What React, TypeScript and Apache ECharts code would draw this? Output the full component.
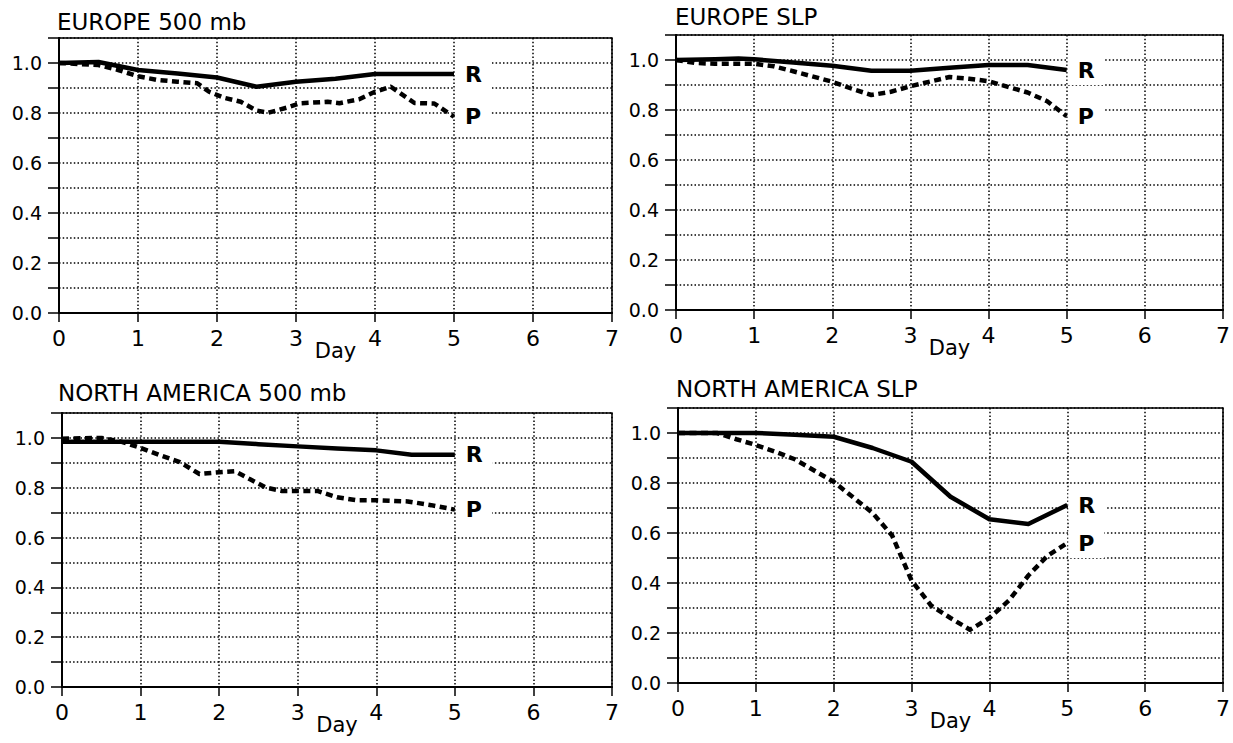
import React, { useEffect, useRef } from "react";
import * as echarts from "echarts";

// ---- Data ----
const xTickLabels = ["0", "1", "2", "3", "4", "5", "6", "7"];
const yTickLabels = ["0.0", "0.2", "0.4", "0.6", "0.8", "1.0"];

const panelTitles = ["EUROPE 500 mb", "EUROPE SLP", "NORTH AMERICA 500 mb", "NORTH AMERICA SLP"];
const seriesNames = ["R", "P"];

// EUROPE 500 mb
const eu500RDays = [0, 0.5, 1, 1.5, 2, 2.5, 3, 3.5, 4, 4.5, 5];
const eu500RVals = [1.0, 1.004, 0.972, 0.958, 0.942, 0.905, 0.925, 0.937, 0.956, 0.956, 0.956];
const eu500PDays = [0, 0.5, 0.75, 1, 1.25, 1.5, 1.75, 1.9, 2.1, 2.3, 2.5, 2.65, 2.9, 3.05, 3.4, 3.55, 3.8, 4.0, 4.2, 4.5, 4.75, 5];
const eu500PVals = [1.0, 0.992, 0.972, 0.947, 0.932, 0.925, 0.919, 0.885, 0.86, 0.845, 0.81, 0.801, 0.823, 0.839, 0.845, 0.839, 0.855, 0.885, 0.905, 0.84, 0.838, 0.785];

// EUROPE SLP
const euSlpRDays = [0, 0.5, 0.8, 1, 1.5, 2, 2.5, 3, 3.5, 4, 4.5, 5];
const euSlpRVals = [1.0, 1.003, 1.006, 1.003, 0.99, 0.977, 0.957, 0.957, 0.969, 0.98, 0.98, 0.96];
const euSlpPDays = [0, 0.25, 0.5, 1, 1.25, 1.5, 2, 2.25, 2.5, 2.75, 3, 3.5, 3.75, 4, 4.5, 4.75, 5];
const euSlpPVals = [1.0, 0.988, 0.985, 0.985, 0.975, 0.955, 0.913, 0.885, 0.86, 0.873, 0.895, 0.932, 0.925, 0.915, 0.87, 0.835, 0.775];

// NORTH AMERICA 500 mb
const na500RDays = [0, 0.5, 1, 1.5, 2, 2.5, 3, 3.5, 4, 4.45, 5];
const na500RVals = [0.985, 0.985, 0.985, 0.985, 0.985, 0.975, 0.966, 0.957, 0.95, 0.932, 0.932];
const na500PDays = [0, 0.5, 0.75, 1, 1.25, 1.5, 1.75, 2, 2.2, 2.4, 2.6, 2.8, 3.25, 3.5, 3.75, 4, 4.4, 4.7, 5];
const na500PVals = [0.997, 1.0, 0.985, 0.96, 0.93, 0.903, 0.855, 0.862, 0.866, 0.833, 0.8, 0.787, 0.787, 0.762, 0.75, 0.75, 0.745, 0.73, 0.712];

// NORTH AMERICA SLP
const naSlpRDays = [0, 0.5, 1, 1.5, 2, 2.5, 3, 3.5, 4, 4.5, 5];
const naSlpRVals = [1.0, 1.0, 1.0, 0.993, 0.985, 0.94, 0.885, 0.745, 0.655, 0.636, 0.712];
const naSlpPDays = [0, 0.5, 0.75, 1, 1.25, 1.5, 2, 2.5, 2.75, 3, 3.25, 3.5, 3.75, 4, 4.25, 4.5, 4.75, 5];
const naSlpPVals = [1.0, 1.0, 0.975, 0.952, 0.925, 0.895, 0.805, 0.68, 0.59, 0.41, 0.31, 0.26, 0.213, 0.26, 0.33, 0.43, 0.51, 0.56];

const panelsR = [
  [eu500RDays, eu500RVals],
  [euSlpRDays, euSlpRVals],
  [na500RDays, na500RVals],
  [naSlpRDays, naSlpRVals],
];
const panelsP = [
  [eu500PDays, eu500PVals],
  [euSlpPDays, euSlpPVals],
  [na500PDays, na500PVals],
  [naSlpPDays, naSlpPVals],
];

// ---- Layout ----
const grids = [
  { left: 59, top: 38, width: 553, height: 275 },
  { left: 676, top: 35, width: 548, height: 275 },
  { left: 62, top: 413, width: 550, height: 274 },
  { left: 678, top: 408, width: 548, height: 275 },
];
const titlePos = [
  { x: 57, y: 21.5 },
  { x: 675, y: 16.5 },
  { x: 58, y: 392.5 },
  { x: 676, y: 389 },
];

const FONT = "'DejaVu Sans', 'Liberation Sans', sans-serif";
const dotted = { color: "#000", width: 1.5, type: [1.5, 2.2] as any };

function zip(a: number[], b: number[]) {
  return a.map((d, i) => [d, b[i]]);
}

export default function App() {
  const ref = useRef<HTMLDivElement>(null);

  useEffect(() => {
    document.body.style.margin = "0";
    if (!ref.current) return;
    const chart = echarts.init(ref.current, null, { renderer: "svg" });

    const xAxis = grids.map((_, i) => ({
      type: "value",
      gridIndex: i,
      min: 0,
      max: 7,
      interval: 1,
      name: "Day",
      nameLocation: "middle",
      nameGap: 27,
      nameMoveOverlap: false,
      nameTextStyle: { fontFamily: FONT, fontSize: 21, color: "#000" },
      axisLine: { show: true, onZero: false, lineStyle: { color: "#000", width: 2 } },
      axisTick: { show: true, inside: false, length: 9, lineStyle: { color: "#000", width: 1.5 } },
      axisLabel: {
        show: true,
        margin: 14,
        fontFamily: FONT,
        fontSize: 22,
        color: "#000",
        showMinLabel: true,
        showMaxLabel: true,
        formatter: (v: number) => xTickLabels[Math.round(v)] ?? "",
      },
      splitLine: { show: true, lineStyle: dotted },
    }));

    const yAxis = grids.map((_, i) => ({
      type: "value",
      gridIndex: i,
      min: 0,
      max: 1.1,
      interval: 0.1,
      axisLine: { show: true, lineStyle: { color: "#000", width: 2 } },
      axisTick: { show: true, inside: false, length: 11, lineStyle: { color: "#000", width: 1.5 } },
      axisLabel: {
        show: true,
        margin: 17,
        fontFamily: FONT,
        fontSize: 19,
        color: "#000",
        showMinLabel: true,
        showMaxLabel: true,
        formatter: (v: number) => {
          const s = v.toFixed(1);
          return yTickLabels.includes(s) ? s : "";
        },
      },
      splitLine: { show: true, lineStyle: dotted },
    }));

    const mkLabel = (txt: string) => ({
      show: true,
      formatter: txt,
      distance: 1,
      color: "#000",
      fontFamily: FONT,
      fontWeight: "bold",
      fontSize: 22,
      backgroundColor: "#fff",
      padding: [4, 10, 4, 10],
    });

    const series: any[] = [];
    grids.forEach((_, i) => {
      series.push({
        type: "line",
        name: seriesNames[1] + i,
        xAxisIndex: i,
        yAxisIndex: i,
        data: zip(panelsP[i][0], panelsP[i][1]),
        symbol: "none",
        showSymbol: false,
        silent: true,
        lineStyle: { color: "#000", width: 4.5, type: [7, 4.5], cap: "butt", join: "round" },
        endLabel: mkLabel(seriesNames[1]),
        z: 3,
      });
      series.push({
        type: "line",
        name: seriesNames[0] + i,
        xAxisIndex: i,
        yAxisIndex: i,
        data: zip(panelsR[i][0], panelsR[i][1]),
        symbol: "none",
        showSymbol: false,
        silent: true,
        lineStyle: { color: "#000", width: 4.5, type: "solid", join: "round" },
        endLabel: mkLabel(seriesNames[0]),
        z: 4,
      });
    });

    const graphic = panelTitles.map((t, i) => ({
      type: "text",
      x: titlePos[i].x,
      y: titlePos[i].y,
      silent: true,
      style: {
        text: t,
        fontFamily: FONT,
        fontSize: 23,
        fill: "#000",
        align: "left",
        verticalAlign: "middle",
      },
    }));

    chart.setOption({
      animation: false,
      backgroundColor: "#fff",
      grid: grids.map((g) => ({
        ...g,
        show: true,
        borderColor: "#000",
        borderWidth: 1.5,
        backgroundColor: "transparent",
        containLabel: false,
      })),
      xAxis,
      yAxis,
      series,
      graphic,
    } as any);

    return () => chart.dispose();
  }, []);

  return <div ref={ref} style={{ width: 1233, height: 743 }} />;
}
